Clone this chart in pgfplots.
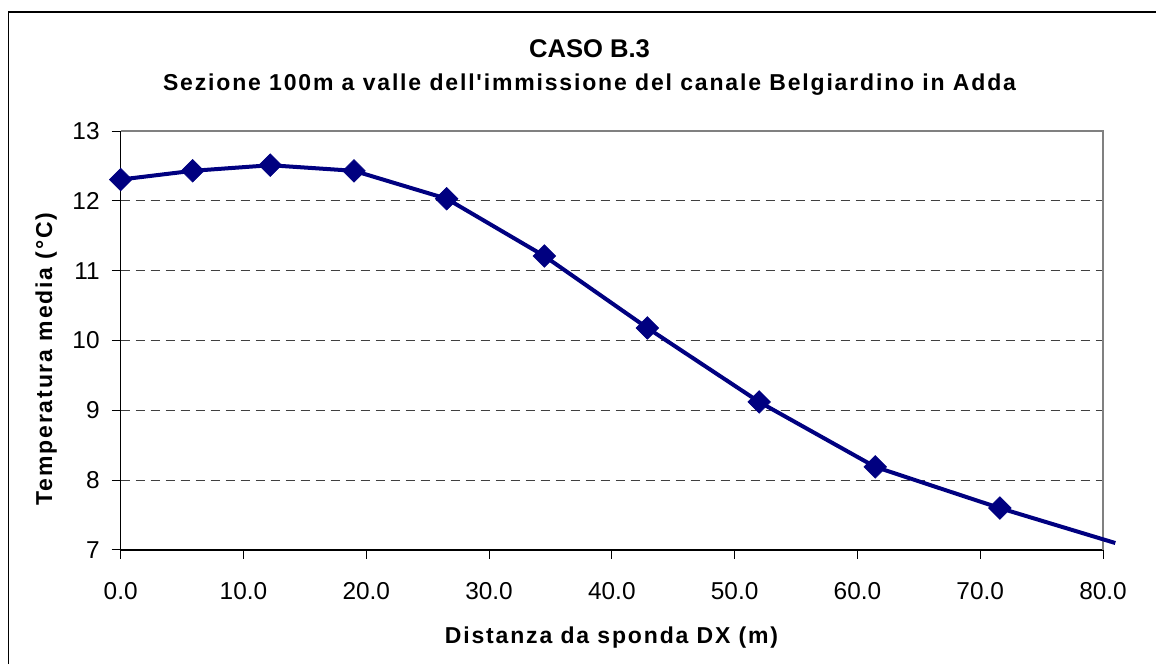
\documentclass[border=0pt]{standalone}
\usepackage{fontspec}
\setmainfont{Liberation Sans}
\newfontfamily\trackfont[LetterSpace=8]{Liberation Sans}
\usepackage{pgfplots}
\pgfplotsset{compat=1.18}
\definecolor{navyline}{RGB}{0,0,128}
\begin{document}
\begin{tikzpicture}
\useasboundingbox (0,0) rectangle (578pt,332pt);
\draw[line width=0.8pt] (4.15pt,0) -- (4.15pt,326pt) -- (578pt,326pt);
\begin{axis}[
  at={(60.35pt,57pt)}, anchor=south west,
  scale only axis, width=491.15pt, height=209.5pt,
  xmin=0, xmax=80, ymin=7, ymax=13,
  xtick={0,10,...,80}, ytick={7,8,...,13},
  axis lines=left, axis line style={-, black, line width=0.6pt},
  tick align=outside, major tick length=4.5pt,
  tick style={black, line width=0.5pt},
  ymajorgrids,
  grid style={black!75, line width=0.5pt, dash pattern=on 4.5pt off 3pt},
  /pgf/number format/assume math mode=true,
  tick label style={font=\fontsize{12.2}{14}\selectfont},
  x tick label style={yshift=-8pt, /pgf/number format/.cd, fixed, fixed zerofill, precision=1},
  y tick label style={xshift=-2.5pt, /pgf/number format/.cd, fixed},
  clip=false,
]
\draw[black!50, line width=0.6pt] (rel axis cs:0,1) -- (rel axis cs:1,1) -- (rel axis cs:1,0);
\addplot[navyline, line width=2pt, mark=square*, mark size=4pt,
  mark options={solid, rotate=45, fill=navyline, line width=0.3pt},
  mark indices={1,2,3,4,5,6,7,8,9,10}]
  coordinates {
  (0,12.305) (5.86,12.43) (12.18,12.51) (19.0,12.43) (26.55,12.03)
  (34.5,11.21) (42.89,10.18) (52.0,9.12) (61.45,8.19) (71.6,7.60) (81.0,7.10)
  };
\end{axis}
\node[anchor=base, font=\bfseries\fontsize{12.8}{14}\selectfont] at (294.75pt,303.35pt) {CASO B.3};
\node[anchor=base, font=\trackfont\bfseries\fontsize{11.5}{13}\selectfont] at (294.75pt,286.5pt) {Sezione 100m a valle dell'immissione del canale Belgiardino in Adda};
\node[anchor=base, font=\trackfont\bfseries\fontsize{11.5}{13}\selectfont] at (305.75pt,10.35pt) {Distanza da sponda DX (m)};
\node[anchor=base, rotate=90, font=\trackfont\bfseries\fontsize{11.5}{13}\selectfont] at (26pt,152.5pt) {Temperatura media (°C)};
\end{tikzpicture}
\end{document}
